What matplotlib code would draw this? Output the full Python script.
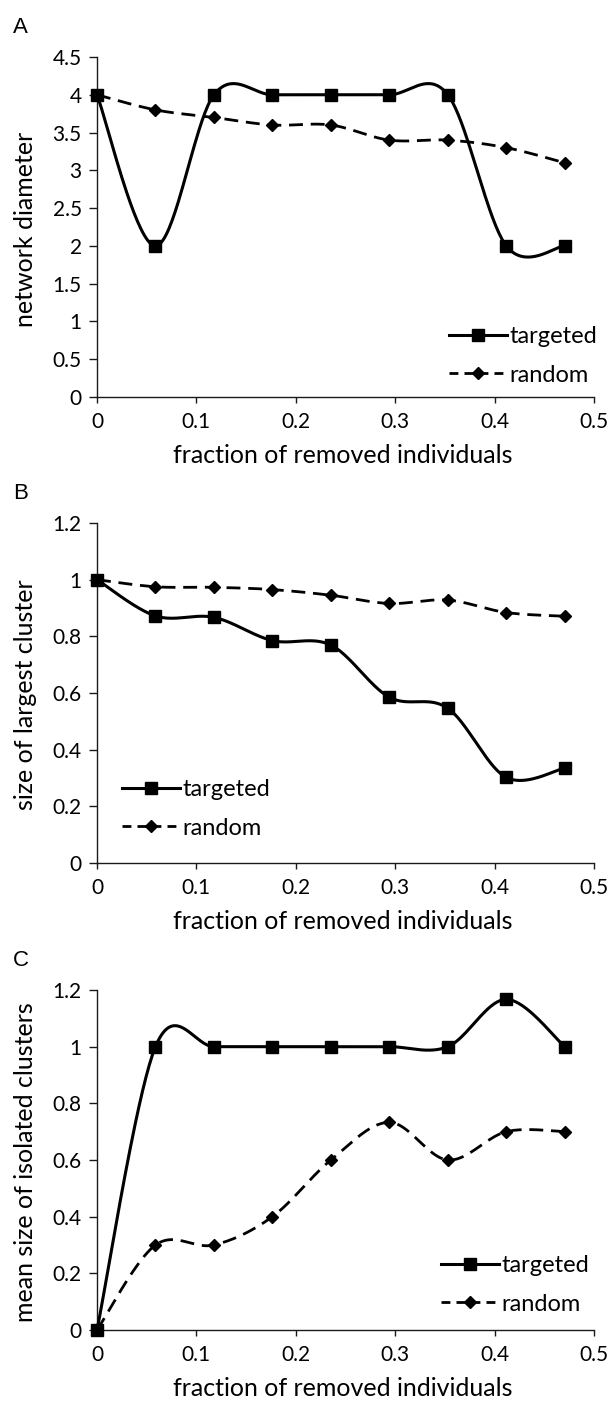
import numpy as np
import matplotlib
matplotlib.use("Agg")
import matplotlib.pyplot as plt

# ---------------- data ----------------
fraction_removed = [0, 1/17, 2/17, 3/17, 4/17, 5/17, 6/17, 7/17, 8/17]

diameter_targeted = [4, 2, 4, 4, 4, 4, 4, 2, 2]
diameter_random = [4, 3.8, 3.7, 3.6, 3.6, 3.4, 3.4, 3.3, 3.1]

largest_targeted = [1.0, 0.872, 0.867, 0.785, 0.769, 0.585, 0.546, 0.302, 0.335]
largest_random = [1.0, 0.975, 0.973, 0.965, 0.945, 0.916, 0.928, 0.884, 0.871]

isolated_targeted = [0, 1, 1, 1, 1, 1, 1, 1.167, 1]
isolated_random = [0, 0.3, 0.3, 0.4, 0.6, 0.733, 0.6, 0.7, 0.7]

x_ticks = [0, 0.1, 0.2, 0.3, 0.4, 0.5]
x_tick_labels = ["0", "0.1", "0.2", "0.3", "0.4", "0.5"]
yA_ticks = [0, 0.5, 1, 1.5, 2, 2.5, 3, 3.5, 4, 4.5]
yA_labels = ["0", "0.5", "1", "1.5", "2", "2.5", "3", "3.5", "4", "4.5"]
yBC_ticks = [0, 0.2, 0.4, 0.6, 0.8, 1.0, 1.2]
yBC_labels = ["0", "0.2", "0.4", "0.6", "0.8", "1", "1.2"]

series_labels = ["targeted", "random"]
panel_letters = ["A", "B", "C"]
y_titles = ["network diameter", "size of largest cluster", "mean size of isolated clusters"]
x_title = "fraction of removed individuals"

# ------------- smoothing (Excel-like Bezier) -------------
def smooth(xs, ys, n=40):
    P = np.column_stack([xs, ys]).astype(float)
    m = len(P)
    out = [P[0]]
    for i in range(m - 1):
        p0 = P[i - 1] if i > 0 else P[i]
        p1 = P[i]
        p2 = P[i + 1]
        p3 = P[i + 2] if i + 2 < m else P[i + 1]
        c1 = p1 + (p2 - p0) / 6.0
        c2 = p2 - (p3 - p1) / 6.0
        t = np.linspace(0, 1, n)[1:, None]
        seg = ((1 - t) ** 3) * p1 + 3 * ((1 - t) ** 2) * t * c1 + 3 * (1 - t) * t ** 2 * c2 + t ** 3 * p2
        out.extend(seg)
    out = np.array(out)
    return out[:, 0], out[:, 1]

W, H = 610, 1403
fig = plt.figure(figsize=(W / 100, H / 100), dpi=100)

FONT = ["Lato", "DejaVu Sans"]
TICK_FS = 15
LEG_FS = 17
LAB_FS = 18

def fx(px):
    return px / W

def fy(py):
    return 1 - py / H

panels = [
    dict(top=57, bot=397, ylim=(0, 4.5), yt=yA_ticks, yl=yA_labels,
         t=diameter_targeted, r=diameter_random, leg=(449, 326)),
    dict(top=523, bot=863, ylim=(0, 1.2), yt=yBC_ticks, yl=yBC_labels,
         t=largest_targeted, r=largest_random, leg=(122, 779)),
    dict(top=990, bot=1330, ylim=(0, 1.2), yt=yBC_ticks, yl=yBC_labels,
         t=isolated_targeted, r=isolated_random, leg=(441, 1255)),
]

L, R = 97, 594
for k, p in enumerate(panels):
    ax = fig.add_axes([fx(L), fy(p["bot"]), fx(R - L), (p["bot"] - p["top"]) / H])
    ax.set_xlim(0, 0.5)
    ax.set_ylim(*p["ylim"])
    for s in ["top", "right"]:
        ax.spines[s].set_visible(False)
    for s in ["left", "bottom"]:
        ax.spines[s].set_color("#1a1a1a")
        ax.spines[s].set_linewidth(1.0)
    ax.set_xticks(x_ticks)
    ax.set_xticklabels(x_tick_labels, fontfamily=FONT, fontsize=TICK_FS)
    ax.set_yticks(p["yt"])
    ax.set_yticklabels(p["yl"], fontfamily=FONT, fontsize=TICK_FS)
    ax.tick_params(axis="x", direction="out", length=4.5, width=1, color="#1a1a1a", pad=6)
    ax.tick_params(axis="y", direction="out", length=6, width=1, color="#1a1a1a", pad=5)
    ax.patch.set_alpha(0)

    xs, ys = smooth(fraction_removed, p["t"])
    ax.plot(xs, ys, color="black", lw=2.2, solid_capstyle="butt", clip_on=False, zorder=3)
    ax.plot(fraction_removed, p["t"], ls="none", marker="s", ms=8.5, color="black", clip_on=False, zorder=4)
    xs, ys = smooth(fraction_removed, p["r"])
    ax.plot(xs, ys, color="black", lw=2.0, dashes=(5, 2.8), clip_on=False, zorder=3)
    ax.plot(fraction_removed, p["r"], ls="none", marker="D", ms=5.8, color="black", clip_on=False, zorder=4)

    # legend
    h1 = plt.Line2D([], [], color="black", lw=2.2, marker="s", ms=8.5)
    h2 = plt.Line2D([], [], color="black", lw=2.0, dashes=(3.2, 2.2), marker="D", ms=5.8)
    ax.legend([h1, h2], series_labels, loc="upper left",
              bbox_to_anchor=(fx(p["leg"][0]), fy(p["leg"][1])), bbox_transform=fig.transFigure,
              frameon=False, borderpad=0, borderaxespad=0, handlelength=2.45,
              handletextpad=0.1, labelspacing=0.75, numpoints=1,
              prop=dict(family=FONT, size=LEG_FS))

    fig.text(fx(33), fy((p["top"] + p["bot"]) / 2 + 2), y_titles[k], rotation=90,
             rotation_mode="anchor", ha="center", va="baseline",
             fontfamily=FONT, fontsize=LAB_FS)
    fig.text(fx(343), fy(p["bot"] + 66), x_title, ha="center", va="baseline",
             fontfamily=FONT, fontsize=LAB_FS)
    fig.text(fx(13), fy(p["top"] - 24), panel_letters[k], ha="left", va="baseline",
             fontfamily=["Liberation Sans"], fontsize=16)

fig.savefig("out.png", dpi=100)
